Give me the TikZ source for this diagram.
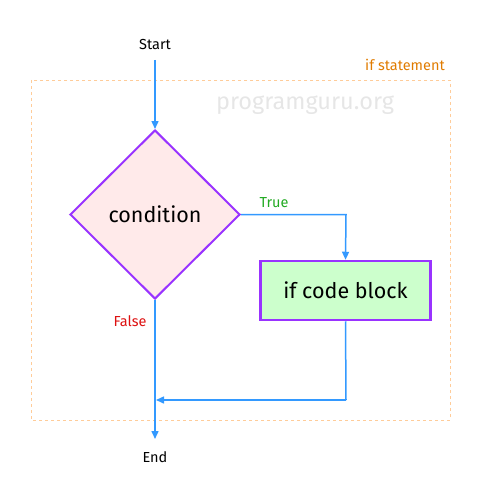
\documentclass[tikz,border=0pt]{standalone}
\usepackage{fontspec}
\setmainfont{Fira Sans}
\usetikzlibrary{shapes.geometric,arrows.meta}
\definecolor{arrowblue}{HTML}{3399FF}
\definecolor{purp}{HTML}{9933FF}
\definecolor{pinkfill}{HTML}{FFEAEA}
\definecolor{greenfill}{HTML}{CCFFCC}
\definecolor{dashorange}{HTML}{FFCC99}
\definecolor{labelorange}{HTML}{E07B00}
\definecolor{truegreen}{HTML}{22AA22}
\definecolor{falsered}{HTML}{DD1111}
\definecolor{wmgray}{HTML}{E6E6E6}
\tikzset{
  flow/.style={draw=arrowblue, line width=1.5pt, -{Triangle[width=7pt,length=8pt]}},
  flowplain/.style={draw=arrowblue, line width=1.5pt},
  lbl/.style={font=\fontsize{14.5}{16}\selectfont, inner sep=0pt},
  decision/.style={diamond, draw=purp, line width=2pt, fill=pinkfill, minimum width=170pt, minimum height=169pt, inner sep=0pt, aspect=1, font=\fontsize{21.5}{25}\selectfont},
  process/.style={rectangle, draw=purp, line width=2.5pt, fill=greenfill, minimum width=170pt, minimum height=59pt, inner sep=0pt, font=\fontsize{21.5}{25}\selectfont}
}
\begin{document}
\begin{tikzpicture}[x=1pt,y=-1pt]
\useasboundingbox (0,0) rectangle (500,500);
\draw[dashorange, dashed, line width=0.8pt] (31,80) rectangle (450,420);
\node[lbl, text=labelorange] (ifst) at (405,65) {if statement};
\node[inner sep=0pt, text=wmgray, font=\fontsize{23.5}{27}\selectfont] (wm) at (305,105) {programguru.org};
\node[lbl] (start) at (155,45) {Start};
\node[decision] (cond) at (155,214.5) {condition};
\node[process] (blk) at (345.5,290.5) {if code block};
\node[lbl] (end) at (155,457) {End};
\node[lbl, text=truegreen] (true) at (274,203) {True};
\node[lbl, text=falsered] (false) at (130,321) {False};
\coordinate (tr) at (346,214.5);
\coordinate (br) at (346,400);
\coordinate (bl) at (155,400);
\draw[flow] (start.south |- 0,60) -- (cond.north);
\draw[flow] (cond.east) -- (tr) -- (blk.north);
\draw[flowplain] (blk.south) -- (br);
\draw[flow] (br) -- ([xshift=1pt]bl);
\draw[flow] (cond.south) -- (155,439) coordinate (endtip);
\end{tikzpicture}
\end{document}
